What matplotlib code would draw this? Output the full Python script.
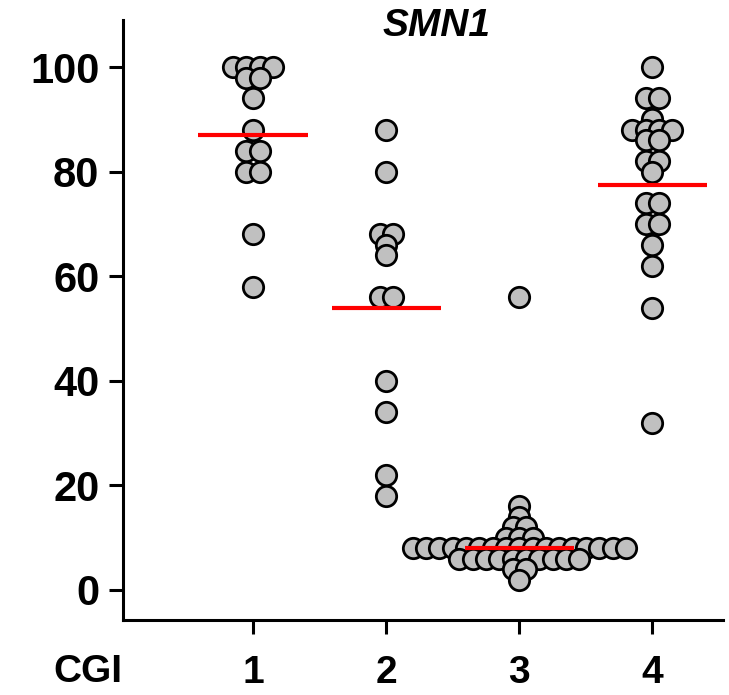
import numpy as np
import matplotlib
matplotlib.use("Agg")
import matplotlib.pyplot as plt
import matplotlib.transforms as mtransforms

plt.rcParams['font.family'] = ['Liberation Sans', 'DejaVu Sans']

# ---- data ----
categories = ["1", "2", "3", "4"]
cgi_1 = [100, 100, 100, 100, 98, 98, 94, 88, 84, 84, 80, 80, 68, 58]
cgi_2 = [88, 80, 68, 68, 66, 64, 56, 56, 40, 34, 22, 18]
cgi_3 = [56, 16, 14, 12, 12, 10, 10, 10,
         8, 8, 8, 8, 8, 8, 8, 8, 8, 8, 8, 8, 8, 8, 8, 8, 8,
         6, 6, 6, 6, 6, 6, 6, 6, 6, 6,
         4, 4, 2]
cgi_4 = [100, 94, 94, 90, 88, 88, 88, 88, 86, 86, 82, 82, 80,
         74, 74, 70, 70, 66, 62, 54, 32]
mean_lines = [87, 54, 8, 77.5]
y_ticks = [0, 20, 40, 60, 80, 100]
title = "SMN1"

groups = [cgi_1, cgi_2, cgi_3, cgi_4]

fig = plt.figure(figsize=(7.29, 6.95), dpi=100)
ax = fig.add_axes([123/729, 1-620/695, 600/729, 600/695])

step = 0.1
for gi, vals in enumerate(groups):
    xc = gi + 1
    vals = np.array(vals)
    xs, ys = [], []
    for v in sorted(set(vals.tolist()), reverse=True):
        n = int((vals == v).sum())
        offs = (np.arange(n) - (n - 1) / 2) * step
        xs.extend(xc + offs)
        ys.extend([v] * n)
    ax.scatter(xs, ys, s=215, facecolor="#C0C0C0", edgecolor="black",
               linewidth=2.0, zorder=3, clip_on=False)
    ax.plot([xc - 0.41, xc + 0.41], [mean_lines[gi]] * 2, color="#FF0000",
            lw=3.0, zorder=4, solid_capstyle="butt")

ax.set_xlim(0.023, 4.53)
ax.set_ylim(-5.74, 109)
ax.set_yticks(y_ticks)
ax.set_yticklabels([str(t) for t in y_ticks], fontsize=30, fontweight="bold")
ax.set_xticks([1, 2, 3, 4])
ax.set_xticklabels(categories, fontsize=28, fontweight="bold")
ax.tick_params(axis="y", direction="out", length=10, width=2.2, pad=7)
ax.tick_params(axis="x", direction="out", length=10, width=2.2, pad=15)

for side in ["top", "right"]:
    ax.spines[side].set_visible(False)
for side in ["left", "bottom"]:
    ax.spines[side].set_linewidth(2.2)

# "CGI" row label aligned with x tick labels
trans = mtransforms.blended_transform_factory(ax.transData, ax.transAxes)
ax.text(1 - (253 - 88) / 133, -0.087, "CGI", transform=trans, ha="center",
        va="center", fontsize=28, fontweight="bold", clip_on=False)

ax.text(1 + (436 - 253) / 133, 1 - (26 - 20) / 600, title, transform=trans,
        ha="center", va="center", fontsize=28, fontweight="bold",
        fontstyle="italic")

fig.savefig("out.png", dpi=100)
